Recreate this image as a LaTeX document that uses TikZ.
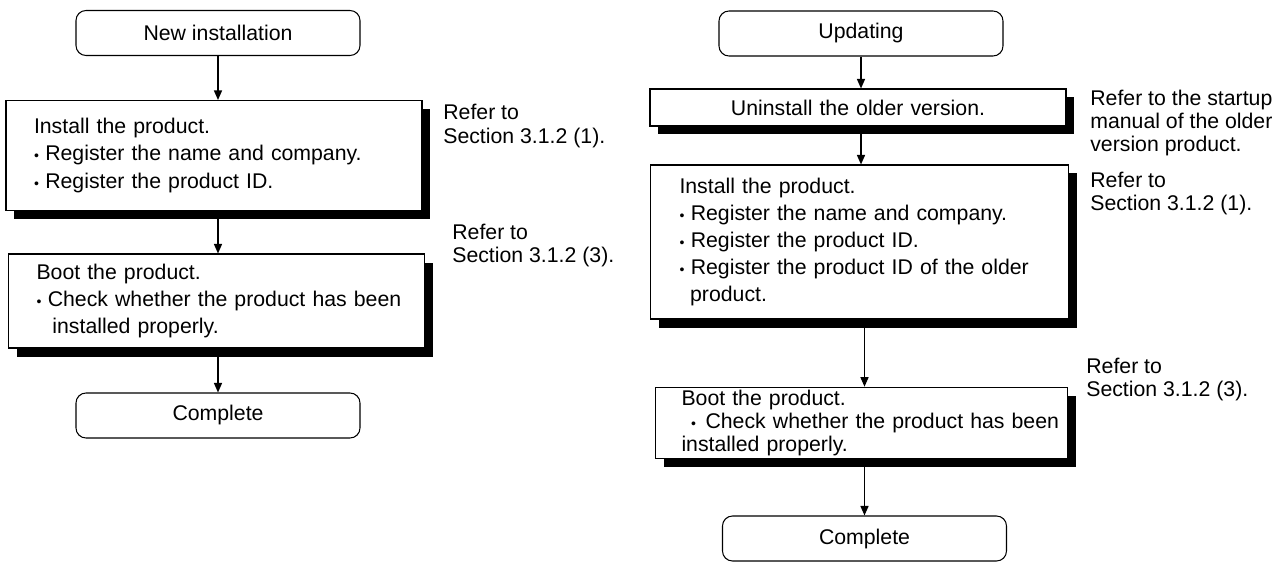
\documentclass[tikz,border=0pt]{standalone}
\usepackage{fontspec}
\setmainfont{Liberation Sans}
\usepackage{tikz}
\usetikzlibrary{shapes,arrows.meta,positioning,shadows}

\newcommand{\bul}{{\fontsize{8}{8}\selectfont\textbullet}\hspace{0.3em}}

\begin{document}
\begin{tikzpicture}
            [
                endbox/.style={rectangle, rounded corners=0.2cm, draw=black, line width=0.6pt, fill=white, minimum width=5.68cm, minimum height=0.9cm, font=\fontsize{12.1}{14}\selectfont},
                stepbox/.style={rectangle, draw=black, line width=0.6pt, fill=white, inner xsep=0.56cm, inner ysep=0.1cm, text width=7.2cm, align=left, font=\fontsize{12.1}{15.4}\selectfont, drop shadow={shadow xshift=0.16cm, shadow yshift=-0.17cm, fill=black, opacity=1}},
                reftext/.style={anchor=west, align=left, inner sep=0pt, font=\fontsize{12.1}{13.3}\selectfont},
                flow/.style={line width=0.8pt, -{Triangle[length=0.19cm, width=0.16cm]}},
            ]

            \useasboundingbox (0,0) rectangle (25.68,-11.26);

            %% NEW INSTALLATION
            \node[endbox] (newinst) at(4.36,-0.66) {New installation};
            \node[stepbox, minimum height=2.2cm] (installa) at(4.28,-3.11) {Install the product.\\
                \bul Register the name and company.\\
                \bul Register the product ID.};
            \node[stepbox, minimum height=1.88cm] (boota) at(4.33,-6.02) {Boot the product.\\
                \mbox{\bul Check whether the product has been}\\
                \hspace*{0.75em}installed properly.};
            \node[endbox] (completea) at(4.36,-8.31) {Complete};

            \node[reftext] (refa) at(8.86,-2.52) {Refer to\\Section 3.1.2 (1).};
            \node[reftext] (refb) at(9.04,-4.91) {Refer to\\Section 3.1.2 (3).};

            \draw[flow] (newinst.south) -- (newinst.south |- installa.north);
            \draw[flow] (newinst.south |- installa.south) -- (newinst.south |- boota.north);
            \draw[flow] (completea.north |- boota.south) -- (completea.north);

            %% UPDATING
            \node[endbox] (updating) at(17.22,-0.67) {Updating};
            \node[stepbox, align=center, minimum height=0.74cm, inner ysep=0.05cm] (uninstall) at(17.16,-2.15) {Uninstall the older version.};
            \node[stepbox, inner xsep=0.58cm, minimum height=3.08cm] (installb) at(17.19,-4.84) {Install the product.\\
                \bul Register the name and company.\\
                \bul Register the product ID.\\
                \mbox{\bul Register the product ID of the older}\\
                \hspace*{0.5em}product.};
            \node[stepbox, inner xsep=0.52cm, minimum height=1.4cm, inner ysep=0.05cm, font=\fontsize{12.1}{13.3}\selectfont] (bootb) at(17.23,-8.46) {Boot the product.\\
                \mbox{\hspace*{0.45em}\bul\hspace{0.15em}Check whether the product has been}\\
                installed properly.};
            \node[endbox] (completeb) at(17.29,-10.77) {Complete};

            \node[reftext] (refc) at(21.8,-2.46) {Refer to the startup\\manual of the older\\version product.};
            \node[reftext] (refd) at(21.8,-3.87) {Refer to\\Section 3.1.2 (1).};
            \node[reftext] (refe) at(21.72,-7.59) {Refer to\\Section 3.1.2 (3).};

            \draw[flow] (updating.south) -- (updating.south |- uninstall.north);
            \draw[flow] (updating.south |- uninstall.south) -- (updating.south |- installb.north);
            \draw[flow] (completeb.north |- installb.south) -- (completeb.north |- bootb.north);
            \draw[flow] (completeb.north |- bootb.south) -- (completeb.north);

        \end{tikzpicture}
\end{document}
